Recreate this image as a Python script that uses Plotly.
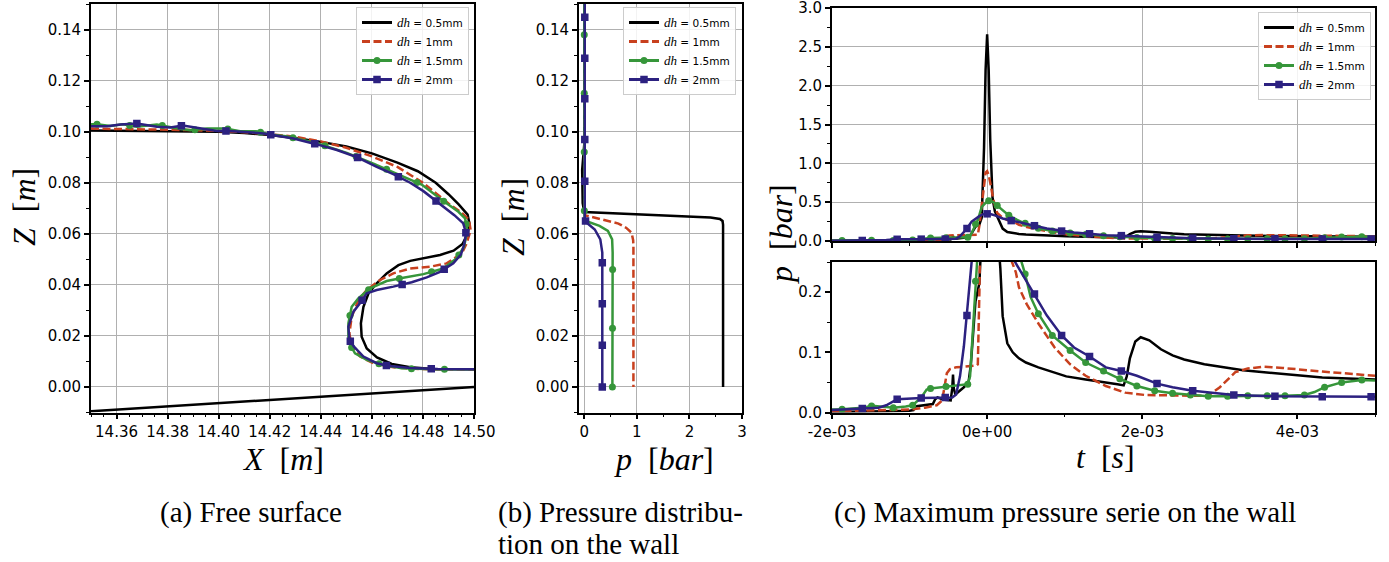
import numpy as np
import plotly.graph_objects as go

W, H = 1389, 562

# ---------------- data ----------------
LABELS = ["0.5mm", "1mm", "1.5mm", "2mm"]

# (a) Free surface  X [m], Z [m]
A_X_05 = [14.350, 14.370, 14.390, 14.400, 14.410, 14.420, 14.430, 14.440, 14.450, 14.460,
          14.470, 14.478, 14.485, 14.490, 14.494, 14.4975, 14.4982, 14.4975, 14.4955, 14.4920,
          14.4867, 14.4815, 14.4750, 14.4704, 14.4658, 14.4619, 14.4587, 14.4567, 14.4557, 14.4560,
          14.4580, 14.4620, 14.4678, 14.4750, 14.4841, 14.5000]
A_Z_05 = [0.1005, 0.1004, 0.1002, 0.1000, 0.0995, 0.0987, 0.0975, 0.0960, 0.0942, 0.0915,
          0.0879, 0.0845, 0.0800, 0.0755, 0.0715, 0.0675, 0.0640, 0.0600, 0.0560, 0.0534,
          0.0517, 0.0508, 0.0494, 0.0477, 0.0445, 0.0406, 0.0367, 0.0314, 0.0249, 0.0197,
          0.0151, 0.0116, 0.0090, 0.0077, 0.0070, 0.0069]

A_X_1 = [14.350, 14.370, 14.390, 14.400, 14.410, 14.420, 14.430, 14.440, 14.450, 14.460,
         14.470, 14.480, 14.490, 14.4955, 14.4980, 14.4987, 14.4971, 14.4952, 14.4893, 14.4828,
         14.4750, 14.4684, 14.4632, 14.4580, 14.4547, 14.4521, 14.4512, 14.4521, 14.4554, 14.4606,
         14.4684, 14.4789, 14.5000]
A_Z_1 = [0.1012, 0.1010, 0.1006, 0.1003, 0.0998, 0.0990, 0.0980, 0.0962, 0.0937, 0.0903,
         0.0862, 0.0800, 0.0719, 0.0680, 0.0655, 0.0614, 0.0562, 0.0523, 0.0484, 0.0471,
         0.0464, 0.0445, 0.0419, 0.0380, 0.0340, 0.0275, 0.0210, 0.0158, 0.0119, 0.0093,
         0.0077, 0.0070, 0.0069]

A_X_15 = [14.3500, 14.3523, 14.3576, 14.3625, 14.3680, 14.3758, 14.3823, 14.3889, 14.3954, 14.4026,
          14.4084, 14.4147, 14.4202, 14.4264, 14.4382, 14.4502, 14.4606, 14.4697, 14.4795, 14.4880,
          14.4939, 14.4965, 14.4974, 14.4961, 14.4932, 14.4880, 14.4802, 14.4723, 14.4658, 14.4593,
          14.4547, 14.4521, 14.4508, 14.4508, 14.4534, 14.4580, 14.4645, 14.4717, 14.4841, 14.5000]
A_Z_15 = [0.1029, 0.1029, 0.1022, 0.1029, 0.1019, 0.1028, 0.1015, 0.1006, 0.1012, 0.1012,
          0.1002, 0.1002, 0.0989, 0.0982, 0.0956, 0.0917, 0.0875, 0.0836, 0.0793, 0.0728,
          0.0686, 0.0660, 0.0614, 0.0549, 0.0504, 0.0464, 0.0442, 0.0428, 0.0415, 0.0386,
          0.0347, 0.0314, 0.0249, 0.0177, 0.0132, 0.0106, 0.0086, 0.0073, 0.0069, 0.0069]

A_X_2 = [14.3500, 14.3563, 14.3615, 14.3680, 14.3758, 14.3810, 14.3860, 14.3928, 14.3993, 14.4043,
         14.4110, 14.4176, 14.4223, 14.4293, 14.4382, 14.4463, 14.4543, 14.4619, 14.4684, 14.4750,
         14.4802, 14.4867, 14.4923, 14.4958, 14.4969, 14.4961, 14.4949, 14.4919, 14.4867, 14.4815,
         14.4756, 14.4684, 14.4619, 14.4580, 14.4560, 14.4528, 14.4508, 14.4512, 14.4530, 14.4567,
         14.4619, 14.4662, 14.4750, 14.4858, 14.5000]
A_Z_2 = [0.1021, 0.1021, 0.1028, 0.1032, 0.1019, 0.1016, 0.1024, 0.1012, 0.1003, 0.1003,
         0.0999, 0.0993, 0.0985, 0.0973, 0.0951, 0.0928, 0.0899, 0.0862, 0.0834, 0.0800,
         0.0767, 0.0716, 0.0673, 0.0641, 0.0601, 0.0556, 0.0519, 0.0484, 0.0451, 0.0429,
         0.0410, 0.0393, 0.0380, 0.0367, 0.0337, 0.0295, 0.0236, 0.0184, 0.0158, 0.0119,
         0.0093, 0.0083, 0.0074, 0.0070, 0.0069]

A_BED_X = [14.35, 14.50]
A_BED_Z = [-0.0095, 0.0]

# (b) Pressure distribution on the wall  p [bar] vs Z [m]
B_Z_05 = [0.150, 0.095, 0.085, 0.072, 0.0685, 0.0680, 0.0672, 0.0664, 0.0658, 0.0650, 0.0635, 0.0]
B_P_05 = [0.0, 0.0, -0.04, -0.03, 0.0, 0.6, 1.6, 2.4, 2.58, 2.63, 2.64, 2.64]
B_Z_1 = [0.150, 0.070, 0.0672, 0.0663, 0.0652, 0.0640, 0.0623, 0.0604, 0.0575, 0.0550, 0.0]
B_P_1 = [0.0, 0.0, 0.02, 0.2, 0.45, 0.65, 0.80, 0.90, 0.93, 0.935, 0.935]
B_Z_15 = [0.150, 0.070, 0.0665, 0.0650, 0.0631, 0.0611, 0.0578, 0.0526, 0.0]
B_P_15 = [0.0, 0.0, 0.005, 0.03, 0.29, 0.45, 0.53, 0.54, 0.535]
B_Z_2 = [0.150, 0.070, 0.0660, 0.0646, 0.0617, 0.0578, 0.0526, 0.0]
B_P_2 = [0.01, 0.01, 0.01, 0.03, 0.20, 0.305, 0.343, 0.343]
B_MK_Z_15 = [0.0, 0.023, 0.046, 0.069, 0.092, 0.115, 0.138]
B_MK_Z_2 = [0.0, 0.0163, 0.0326, 0.0487, 0.065, 0.0806, 0.0969, 0.1129, 0.1288, 0.1448]

# (c) Maximum pressure series on the wall  t [ms], p [bar]
C_T_05 = [-2.0, -1.6, -1.3, -1.0, -0.95, -0.93, -0.80, -0.70, -0.67, -0.64,
          -0.55, -0.47, -0.45, -0.44, -0.43, -0.41, -0.30, -0.24, -0.21, -0.19,
          -0.17, -0.15, -0.10, -0.07, -0.04, -0.02, 0.0, 0.02, 0.04, 0.07,
          0.10, 0.14, 0.17, 0.20, 0.26, 0.33, 0.41, 0.50, 0.66, 0.85,
          1.02, 1.27, 1.50, 1.68, 1.76, 1.80, 1.84, 1.91, 1.98, 2.09,
          2.24, 2.39, 2.54, 2.80, 3.30, 3.81, 4.32, 5.0]
C_P_05 = [0.001, 0.001, 0.002, 0.003, 0.004, 0.010, 0.012, 0.014, 0.022, 0.025,
          0.021, 0.020, 0.040, 0.063, 0.040, 0.030, 0.042, 0.050, 0.080, 0.110,
          0.150, 0.185, 0.215, 0.30, 1.20, 2.20, 2.66, 2.20, 1.30, 0.55,
          0.38, 0.29, 0.24, 0.16, 0.115, 0.10, 0.09, 0.083, 0.075, 0.067,
          0.060, 0.055, 0.051, 0.047, 0.045, 0.060, 0.090, 0.118, 0.125, 0.120,
          0.105, 0.095, 0.088, 0.080, 0.070, 0.064, 0.058, 0.055]

C_T_1 = [-2.0, -1.5, -1.2, -1.0, -0.8, -0.65, -0.58, -0.55, -0.52, -0.48,
         -0.40, -0.30, -0.20, -0.14, -0.12, -0.10, -0.07, -0.04, -0.02, 0.0,
         0.02, 0.05, 0.08, 0.13, 0.20, 0.26, 0.32, 0.37, 0.41, 0.51,
         0.665, 0.87, 1.07, 1.27, 1.53, 1.78, 2.04, 2.29, 2.60, 2.85,
         3.00, 3.20, 3.36, 3.56, 3.81, 4.32, 5.0]
C_P_1 = [0.002, 0.003, 0.004, 0.005, 0.008, 0.012, 0.020, 0.045, 0.065, 0.072,
         0.075, 0.076, 0.077, 0.078, 0.080, 0.20, 0.45, 0.75, 0.88, 0.90,
         0.85, 0.70, 0.53, 0.36, 0.30, 0.27, 0.25, 0.233, 0.208, 0.18,
         0.147, 0.108, 0.080, 0.061, 0.044, 0.033, 0.029, 0.028, 0.028, 0.028,
         0.042, 0.067, 0.073, 0.076, 0.074, 0.068, 0.061]

C_T_15 = [-2.0, -1.87, -1.60, -1.49, -1.30, -1.21, -1.05, -0.96, -0.85, -0.78,
          -0.73, -0.60, -0.53, -0.40, -0.30, -0.25, -0.22, -0.19, -0.15, -0.12,
          -0.07, 0.0, 0.03, 0.08, 0.15, 0.22, 0.28, 0.35, 0.42, 0.49,
          0.56, 0.66, 0.84, 1.07, 1.27, 1.50, 1.71, 1.93, 2.16, 2.39,
          2.62, 2.85, 3.10, 3.36, 3.61, 3.84, 4.09, 4.22, 4.35, 4.57,
          4.83, 5.0]
C_P_15 = [0.005, 0.0055, 0.008, 0.011, 0.009, 0.008, 0.010, 0.012, 0.025, 0.038,
          0.040, 0.042, 0.043, 0.045, 0.046, 0.047, 0.060, 0.120, 0.218, 0.27,
          0.44, 0.51, 0.52, 0.50, 0.44, 0.38, 0.33, 0.29, 0.26, 0.23,
          0.192, 0.164, 0.128, 0.103, 0.083, 0.069, 0.056, 0.044, 0.036, 0.032,
          0.029, 0.027, 0.027, 0.028, 0.028, 0.028, 0.029, 0.034, 0.042, 0.050,
          0.054, 0.053]

C_T_2 = [-2.0, -1.80, -1.61, -1.40, -1.30, -1.20, -1.16, -0.85, -0.54, -0.45,
         -0.40, -0.35, -0.30, -0.26, -0.20, -0.15, -0.10, -0.05, 0.0, 0.05,
         0.10, 0.20, 0.36, 0.50, 0.61, 0.77, 0.96, 1.12, 1.32, 1.53,
         1.73, 1.93, 2.19, 2.39, 2.65, 2.90, 3.18, 3.71, 4.32, 5.0]
C_P_2 = [0.004, 0.005, 0.0067, 0.008, 0.012, 0.020, 0.022, 0.024, 0.025, 0.025,
         0.030, 0.060, 0.110, 0.161, 0.25, 0.29, 0.32, 0.345, 0.35, 0.345,
         0.33, 0.29, 0.25, 0.22, 0.197, 0.161, 0.128, 0.108, 0.093, 0.075,
         0.069, 0.061, 0.048, 0.042, 0.036, 0.033, 0.029, 0.027, 0.026, 0.026]

C_MK_T_15 = [-1.87, -1.49, -1.21, -0.96, -0.73, -0.53, -0.25, -0.15, 0.02, 0.13, 0.28, 0.49,
             0.66, 0.84, 1.07, 1.27, 1.50, 1.71, 1.93, 2.16, 2.39, 2.62, 2.85, 3.10, 3.36,
             3.61, 3.84, 4.09, 4.35, 4.57, 4.83]
C_MK_T_2 = [-1.61, -1.16, -0.85, -0.54, -0.26, 0.0, 0.31, 0.61, 0.96, 1.32, 1.73, 2.19,
            2.65, 3.18, 3.71, 4.32, 4.95]

C_TICKS_MS = [-2.0, 0.0, 2.0, 4.0]

CAPTIONS = ["(a) Free surface", "(b) Pressure distribu-", "tion on the wall",
            "(c) Maximum pressure serie on the wall"]

# ---------------- style ----------------
BLACK, RED, GREEN, BLUE = "#000000", "#c8401e", "#36963a", "#2c2180"
LW = 2.5
TICKFONT = dict(family="DejaVu Sans", size=15, color="black")
SERIF = "Liberation Serif"
GRID = "#b0b0b0"


def fx(px):
    return px / W


def fy(py):
    return 1 - py / H


# panel domains (pixels)
A_DOM = ([91, 474], [4, 412.5])
B_DOM = ([579, 742], [4, 412.5])
C1_DOM = ([832, 1375], [8, 241])
C2_DOM = ([832, 1375], [262, 412.5])

A_XR, A_YR = [14.35, 14.50], [-0.01, 0.15]
B_XR = [-0.1, 3.0]
C_XR = [-2e-3, 5e-3]

fig = go.Figure()


def line(x, y, xa, ya, color, dash="solid"):
    fig.add_trace(go.Scatter(x=x, y=y, mode="lines", xaxis=xa, yaxis=ya,
                             line=dict(color=color, width=LW, dash=dash),
                             showlegend=False, hoverinfo="skip"))


def marks(x, y, xa, ya, color, symbol, size):
    fig.add_trace(go.Scatter(x=x, y=y, mode="markers", xaxis=xa, yaxis=ya,
                             marker=dict(color=color, symbol=symbol, size=size, line=dict(width=0)),
                             showlegend=False, hoverinfo="skip"))


def arc_marks(x, y, step_px, off_px, sx, sy):
    x = np.asarray(x, float)
    y = np.asarray(y, float)
    d = np.hypot(np.diff(x) * sx, np.diff(y) * sy)
    s = np.concatenate([[0.0], np.cumsum(d)])
    tg = np.arange(off_px, s[-1] + 1e-9, step_px)
    return np.interp(tg, s, x), np.interp(tg, s, y)


DASH = "8px,3.5px"

# ---- panel (a)
sxa = (A_DOM[0][1] - A_DOM[0][0]) / (A_XR[1] - A_XR[0])
sya = (A_DOM[1][1] - A_DOM[1][0]) / (A_YR[1] - A_YR[0])
line(A_BED_X, A_BED_Z, "x", "y", BLACK)
line(A_X_05, A_Z_05, "x", "y", BLACK)
line(A_X_1, A_Z_1, "x", "y", RED, DASH)
line(A_X_15, A_Z_15, "x", "y", GREEN)
mx, my = arc_marks(A_X_15, A_Z_15, 33, 6, sxa, sya)
marks(mx, my, "x", "y", GREEN, "circle", 7)
line(A_X_2, A_Z_2, "x", "y", BLUE)
mx, my = arc_marks(A_X_2, A_Z_2, 45, 46, sxa, sya)
marks(mx, my, "x", "y", BLUE, "square", 7.5)

# ---- panel (b)
line(B_P_05, B_Z_05, "x2", "y2", BLACK)
line(B_P_1, B_Z_1, "x2", "y2", RED, DASH)
line(B_P_15, B_Z_15, "x2", "y2", GREEN)
marks(np.interp(B_MK_Z_15, B_Z_15[::-1], B_P_15[::-1]), B_MK_Z_15, "x2", "y2", GREEN, "circle", 7)
line(B_P_2, B_Z_2, "x2", "y2", BLUE)
marks(np.interp(B_MK_Z_2, B_Z_2[::-1], B_P_2[::-1]), B_MK_Z_2, "x2", "y2", BLUE, "square", 7.5)

# ---- panel (c) (both sub-axes show the same series)
for xa, ya in (("x3", "y3"), ("x4", "y4")):
    line(np.array(C_T_05) * 1e-3, C_P_05, xa, ya, BLACK)
    line(np.array(C_T_1) * 1e-3, C_P_1, xa, ya, RED, DASH)
    line(np.array(C_T_15) * 1e-3, C_P_15, xa, ya, GREEN)
    marks(np.array(C_MK_T_15) * 1e-3, np.interp(C_MK_T_15, C_T_15, C_P_15), xa, ya, GREEN, "circle", 7)
    line(np.array(C_T_2) * 1e-3, C_P_2, xa, ya, BLUE)
    marks(np.array(C_MK_T_2) * 1e-3, np.interp(C_MK_T_2, C_T_2, C_P_2), xa, ya, BLUE, "square", 7.5)

# ---- legend entries
STY = [dict(color=BLACK, dash="solid", mode="lines", marker=None),
       dict(color=RED, dash=DASH, mode="lines", marker=None),
       dict(color=GREEN, dash="solid", mode="lines+markers", marker=dict(symbol="circle", size=7)),
       dict(color=BLUE, dash="solid", mode="lines+markers", marker=dict(symbol="square", size=7.5))]
for lg, xa, ya in (("legend", "x", "y"), ("legend2", "x2", "y2"), ("legend3", "x3", "y3")):
    for lab, st in zip(LABELS, STY):
        name = ("<span style='font-family:Liberation Serif;font-size:13px'><i>dh</i></span>"
                " = " + lab)
        kw = dict(x=[None], y=[None], mode=st["mode"], name=name, legend=lg,
                  xaxis=xa, yaxis=ya, line=dict(color=st["color"], width=LW + 0.5, dash=st["dash"]),
                  hoverinfo="skip")
        if st["marker"]:
            kw["marker"] = dict(color=st["color"], line=dict(width=0), **st["marker"])
        fig.add_trace(go.Scatter(**kw))


# ---------------- axes ----------------
def axis(dom, rng, anchor, dtick, tick0, fmt=None, minor=None, grid=True, labels=True,
         tickvals=None, ticktext=None, horizontal=True):
    d = dict(domain=[fx(dom[0]), fx(dom[1])] if horizontal else [fy(dom[1]), fy(dom[0])],
             range=rng, anchor=anchor, showline=True, mirror=True, linecolor="black",
             linewidth=1.8, ticks="outside", ticklen=5, tickwidth=1.5, tickcolor="black",
             tickfont=TICKFONT, showgrid=grid, gridcolor=GRID, gridwidth=1.4,
             zeroline=False, showticklabels=labels, layer="above traces",
             automargin=False, ticklabeloverflow="allow")
    if tickvals is not None:
        d.update(tickmode="array", tickvals=tickvals, ticktext=ticktext)
    else:
        d.update(tickmode="linear", dtick=dtick, tick0=tick0)
    if fmt:
        d["tickformat"] = fmt
    if minor:
        d["minor"] = dict(dtick=minor, tick0=tick0, ticks="outside", ticklen=3,
                          tickwidth=1.2, tickcolor="black", showgrid=False)
    return d


c_tickvals = [v * 1e-3 for v in C_TICKS_MS]
c_ticktext = [f"{v:.0e}" for v in c_tickvals]

fig.update_layout(
    xaxis=axis(A_DOM[0], A_XR, "y", 0.02, 14.36, ".2f", 0.005),
    yaxis=axis(A_DOM[1], A_YR, "x", 0.02, 0.0, ".2f", 0.01, horizontal=False),
    xaxis2=axis(B_DOM[0], B_XR, "y2", 1, 0, "d", 0.5),
    yaxis2=axis(B_DOM[1], A_YR, "x2", 0.02, 0.0, ".2f", 0.01, horizontal=False),
    xaxis3=axis(C1_DOM[0], C_XR, "y3", 2e-3, -2e-3, None, 1e-3, labels=False),
    yaxis3=axis(C1_DOM[1], [0, 3], "x3", 0.5, 0, ".1f", 0.25, horizontal=False),
    xaxis4=axis(C2_DOM[0], C_XR, "y4", None, -2e-3, None, 1e-3, grid=False,
                tickvals=c_tickvals, ticktext=c_ticktext),
    yaxis4=axis(C2_DOM[1], [0, 0.25], "x4", 0.1, 0, ".1f", 0.05, grid=False, horizontal=False),
)


# ---------------- legends ----------------
def legend(right_px, top_px):
    return dict(x=fx(right_px), xanchor="right", y=fy(top_px), yanchor="top",
                bgcolor="rgba(255,255,255,0.85)", bordercolor="#cccccc", borderwidth=1,
                font=dict(family="DejaVu Sans", size=10.5, color="black"),
                itemwidth=30, tracegroupgap=0, traceorder="normal")


fig.update_layout(legend=legend(469, 7), legend2=legend(736, 7), legend3=legend(1371, 12))


# ---------------- titles & captions ----------------
def ann(text, xpx, ypx, size, angle=0, xanchor="center"):
    fig.add_annotation(text=text, x=fx(xpx), y=fy(ypx), xref="paper", yref="paper",
                       showarrow=False, textangle=angle, xanchor=xanchor, yanchor="middle",
                       font=dict(family=SERIF, size=size, color="black"))


ann("<i>X</i>  [<i>m</i>]", 283, 459, 32)
ann("<i>Z</i>  [<i>m</i>]", 24, 207, 32, angle=-90)
ann("<i>p</i>  [<i>bar</i>]", 664, 459, 32)
ann("<i>Z</i>  [<i>m</i>]", 513, 217, 32, angle=-90)
ann("<i>t</i>  [<i>s</i>]", 1105, 457, 32)
ann("<i>p</i>  [<i>bar</i>]", 781, 234, 32, angle=-90)

ann(CAPTIONS[0], 251, 512, 29)
ann(CAPTIONS[1], 496, 512, 29, xanchor="left")
ann(CAPTIONS[2], 496, 544, 29, xanchor="left")
ann(CAPTIONS[3], 1065, 512, 29)

fig.update_layout(width=W, height=H, margin=dict(l=0, r=0, t=0, b=0),
                  paper_bgcolor="white", plot_bgcolor="white")

fig.write_html("out.html", config={"displayModeBar": False},
               post_script="document.body.style.margin='0';"
                           "document.body.style.overflow='hidden';")
